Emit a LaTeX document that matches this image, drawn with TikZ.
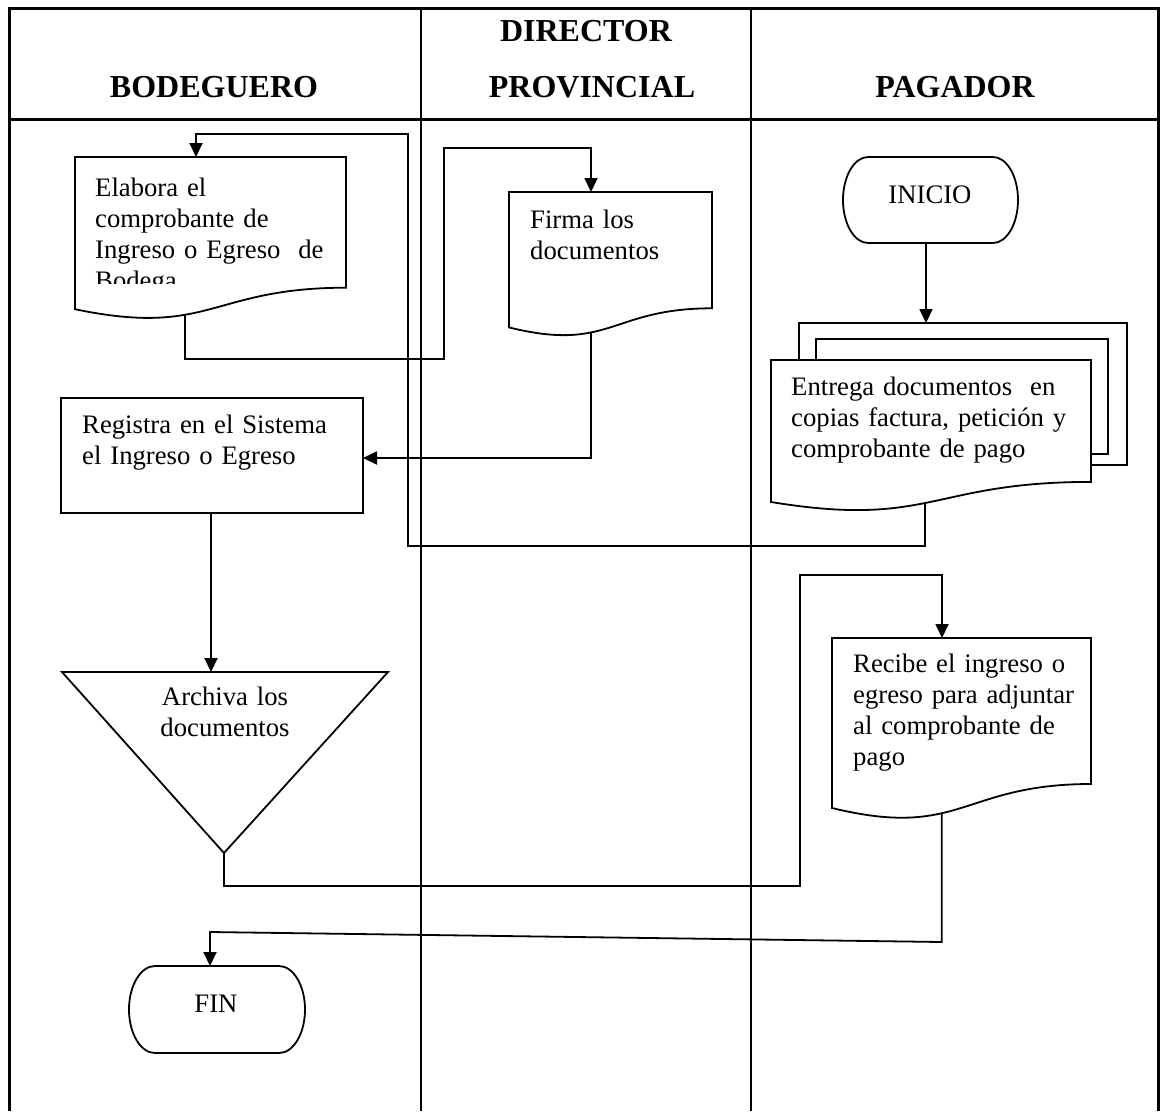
\documentclass[tikz,border=0pt]{standalone}
\usepackage{fontspec}
\setmainfont{Liberation Serif}
\usetikzlibrary{arrows.meta,calc}
\begin{document}
\begin{tikzpicture}[x=1pt,y=-1pt,
  frame/.style={line width=3pt},
  lane/.style={line width=1.8pt},
  shp/.style={draw, line width=1.8pt, fill=white},
  conn/.style={line width=1.8pt},
  arr/.style={conn,-{Triangle[length=14pt,width=13pt]}},
  hdr/.style={font=\fontsize{32}{38}\selectfont\bfseries, inner sep=0pt},
  body/.style={font=\fontsize{26.7}{31}\selectfont, inner sep=0pt, align=left},
]
\useasboundingbox (0,0) rectangle (1164,1111);
% frame and lanes
\draw[frame] (9,1111) -- (9,8) -- (1158,8) -- (1158,1111);
\draw[frame] (9,119) -- (1158,119);
\draw[lane] (421,8) -- (421,1111);
\draw[lane] (751,8) -- (751,1111);
% headers
\node[hdr, anchor=base] (h1) at (214,97) {BODEGUERO};
\node[hdr, anchor=base] (h2a) at (586,41) {DIRECTOR};
\node[hdr, anchor=base] (h2b) at (592,97) {PROVINCIAL};
\node[hdr, anchor=base] (h3) at (955,97) {PAGADOR};

% Elabora (document)
\draw[shp] (75,157) -- (346,157) -- (346,287.7)
  .. controls (210.5,287.7) and (210.5,337.5) .. coordinate[pos=0.624] (elabOut) (75,309.2) -- cycle;
\begin{scope}
\clip (75,157) rectangle (346,283);
\node[body, anchor=base west, text width=250pt] (t1) at (95,196) {Elabora el\\comprobante de\\Ingreso o Egreso\ \ de\\Bodega};
\end{scope}
\coordinate (elabTop) at (196,157);

% Firma (document)
\draw[shp] (509,192) -- (712,192) -- (712,308.3)
  .. controls (610.5,308.3) and (610.5,352.6) .. coordinate[pos=0.624] (firmaOut) (509,327.4) -- cycle;
\node[body, anchor=base west, text width=170pt] (t2) at (530,228) {Firma los\\documentos};
\coordinate (firmaTop) at (591,192);

% INICIO (terminator)
\draw[shp] (993,157) .. controls (1006.8,157) and (1018,176.3) .. (1018,200)
  .. controls (1018,223.7) and (1006.8,243) .. (993,243) -- (868,243)
  .. controls (854.2,243) and (843,223.7) .. (843,200)
  .. controls (843,176.3) and (854.2,157) .. (868,157) -- cycle;
\node[body, anchor=base] (t7) at (930,203) {INICIO};
\coordinate (inicioS) at (926,243);

% Entrega (multi-document)
\draw[shp] (799,323) rectangle (1127,465);
\draw[shp] (816,339) rectangle (1108,454);
\draw[shp] (771,360) -- (1091,360) -- (1091,481.9)
  .. controls (931,481.9) and (931,528.3) .. coordinate[pos=0.525] (entOut) (771,502) -- cycle;
\node[body, anchor=base west, text width=300pt] (t3) at (791,395) {Entrega documentos\hspace{18pt}en\\copias factura, petición y\\comprobante de pago};
\coordinate (entTop) at (926,323);

% Registra (process)
\draw[shp] (61,398) rectangle (363,513);
\node[body, anchor=base west, text width=270pt] (t4) at (82,433) {Registra en el Sistema\\el Ingreso o Egreso};
\coordinate (regE) at (363,458);
\coordinate (regS) at (211,513);

% Archiva (triangle)
\draw[shp] (62,672) -- (388,672) -- (224,853) -- cycle;
\node[body, anchor=base, align=center, text width=200pt] (t5) at (225,705) {Archiva los\\documentos};
\coordinate (triTop) at (211,672);
\coordinate (triBot) at (224,853);

% Recibe (document)
\draw[shp] (832,638) -- (1091,638) -- (1091,784)
  .. controls (961.5,784) and (961.5,839.6) .. coordinate[pos=0.6] (recOut) (832,808) -- cycle;
\node[body, anchor=base west, text width=250pt] (t6) at (853,672) {Recibe el ingreso o\\egreso para adjuntar\\al comprobante de\\pago};
\coordinate (recTop) at (942,638);

% FIN (terminator)
\draw[shp] (279,966) .. controls (293.4,966) and (305,985.5) .. (305,1009.5)
  .. controls (305,1033.5) and (293.4,1053) .. (279,1053) -- (155,1053)
  .. controls (140.6,1053) and (129,1033.5) .. (129,1009.5)
  .. controls (129,985.5) and (140.6,966) .. (155,966) -- cycle;
\node[body, anchor=base] (t8) at (216,1012) {FIN};
\coordinate (finTop) at (210,966);

% connectors
\coordinate (y942) at (0,942);
\coordinate (recCorner) at (recOut |- y942);
\draw[arr] (inicioS) -- (entTop);
\draw[arr] (entOut) |- (408,546) |- (196,134) -- (elabTop);
\draw[arr] (elabOut) |- (444,359) |- (591,148) -- (firmaTop);
\draw[arr] (firmaOut) |- (regE);
\draw[arr] (regS) -- (triTop);
\draw[arr] (triBot) |- (800,886) |- (942,575) -- (recTop);
\draw[arr] (recOut) -- (recCorner) -- (210,932) -- (finTop);
\end{tikzpicture}
\end{document}
